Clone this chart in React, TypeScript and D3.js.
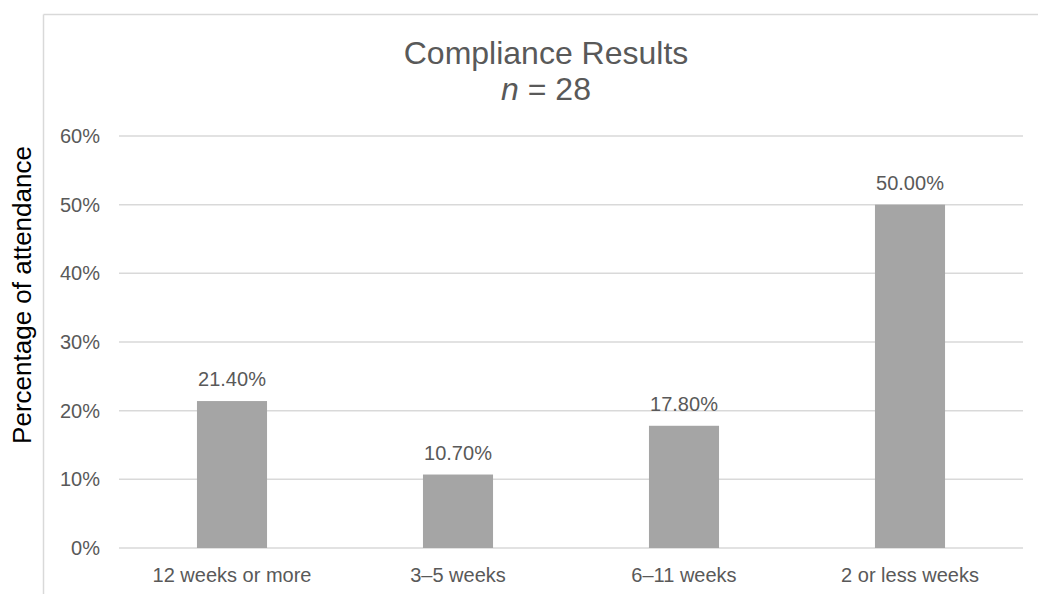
import React from "react";
import * as d3 from "d3";

const categories = ["12 weeks or more", "3–5 weeks", "6–11 weeks", "2 or less weeks"];
const values = [21.4, 10.7, 17.8, 50.0];
const yTicks = [0, 10, 20, 30, 40, 50, 60];

export default function App() {
  const W = 1038, H = 594;
  const left = 119, right = 1023, top = 136, bottom = 548;
  const x = d3.scaleBand<string>().domain(categories).range([left, right]).paddingInner(0.69).paddingOuter(0.345);
  const y = d3.scaleLinear().domain([0, 60]).range([bottom, top]);
  const font = "'Liberation Sans', Arial, sans-serif";
  const txt = "#595959";
  return (
    <svg width={W} height={H} style={{ position: "absolute", left: 0, top: 0 }} fontFamily={font}>
      <rect x={0} y={0} width={W} height={H} fill="#fff" />
      <line x1={43.5} y1={14.5} x2={W} y2={14.5} stroke="#d9d9d9" strokeWidth={1.5} />
      <line x1={43.5} y1={14.5} x2={43.5} y2={H} stroke="#d9d9d9" strokeWidth={1.5} />
      <text x={546} y={64} textAnchor="middle" fontSize={32} fill={txt}>Compliance Results</text>
      <text x={546} y={100} textAnchor="middle" fontSize={32} fill={txt}>
        <tspan fontStyle="italic">n</tspan> = 28
      </text>
      {yTicks.map((t) => (
        <g key={t}>
          <line x1={left} x2={right} y1={y(t)} y2={y(t)} stroke="#d9d9d9" strokeWidth={1.5} />
          <text x={100} y={y(t) + 7} textAnchor="end" fontSize={20} fill={txt}>{t}%</text>
        </g>
      ))}
      {categories.map((c, i) => (
        <g key={c}>
          <rect x={x(c)} y={y(values[i])} width={x.bandwidth()} height={bottom - y(values[i])} fill="#a5a5a5" />
          <text x={(x(c) as number) + x.bandwidth() / 2} y={y(values[i]) - 15} textAnchor="middle" fontSize={20} fill={txt}>
            {values[i].toFixed(2)}%
          </text>
          <text x={(x(c) as number) + x.bandwidth() / 2} y={582} textAnchor="middle" fontSize={20} fill={txt}>{c}</text>
        </g>
      ))}
      <text transform={`translate(31,295) rotate(-90)`} textAnchor="middle" fontSize={26} fill="#000">
        Percentage of attendance
      </text>
    </svg>
  );
}
